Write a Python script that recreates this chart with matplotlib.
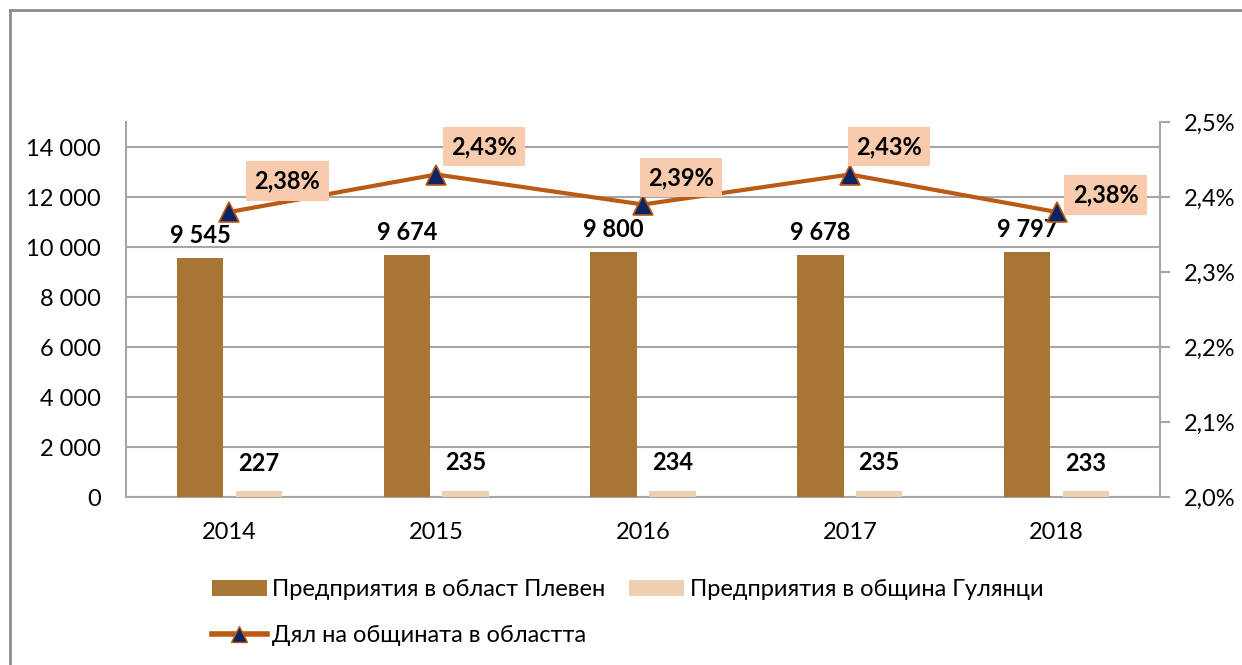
import matplotlib
matplotlib.use("Agg")
import matplotlib.pyplot as plt
from matplotlib.lines import Line2D
from matplotlib.patches import Patch
import numpy as np

years = ['2014', '2015', '2016', '2017', '2018']
pleven = [9545, 9674, 9800, 9678, 9797]
gulyantsi = [227, 235, 234, 235, 233]
share = [2.38, 2.43, 2.39, 2.43, 2.38]

# label box offsets from the markers, in pixels (right, up)
share_offsets = [(58, 31), (48, 28), (38, 27), (39, 28), (49, 17)]

plt.rcParams['font.family'] = ['Lato', 'Noto Sans', 'DejaVu Sans']
FS = 17

c_pleven = '#A97535'
c_gul = '#EED0B0'
c_line = '#BA5A14'
c_marker = '#0D2463'
c_grid = '#A6A6A6'


def fmt_int(v):
    return f'{v:,}'.replace(',', ' ')


fig = plt.figure(figsize=(12.42, 6.65), dpi=100)
ax = fig.add_axes([126 / 1242, 1 - 497 / 665, (1160 - 126) / 1242, (497 - 122) / 665])
ax2 = ax.twinx()

x = np.arange(len(years))
w = 0.225
off = 0.142
ax.bar(x - off, pleven, w, color=c_pleven, zorder=3)
ax.bar(x + off, gulyantsi, w, color=c_gul, zorder=3)

ax.set_xlim(-0.5, len(years) - 0.5)
ax.set_ylim(0, 15000)
ax.set_yticks(np.arange(0, 14001, 2000))
ax.set_yticklabels([fmt_int(v) for v in range(0, 14001, 2000)], fontsize=FS)
ax.set_xticks(x)
ax.set_xticklabels(years, fontsize=FS)
ax.tick_params(axis='x', length=0, pad=18)
ax.tick_params(axis='y', length=0, pad=18)
ax.grid(axis='y', color=c_grid, linewidth=1.5, zorder=0)
ax.set_axisbelow(True)

for s in ['top', 'right']:
    ax.spines[s].set_visible(False)
ax.spines['left'].set_color(c_grid)
ax.spines['left'].set_linewidth(1.5)
ax.spines['bottom'].set_color(c_grid)
ax.spines['bottom'].set_linewidth(1.5)

for xi, v in zip(x, pleven):
    ax.annotate(fmt_int(v), (xi - off, v), xytext=(0, 8), textcoords='offset points',
                ha='center', va='bottom', fontsize=FS, fontweight='bold', zorder=5)
for xi, v in zip(x, gulyantsi):
    ax.annotate(fmt_int(v), (xi + off, v), xytext=(0, 12), textcoords='offset points',
                ha='center', va='bottom', fontsize=FS, fontweight='bold', zorder=5)

ax2.plot(x, share, color=c_line, linewidth=3, marker='^', markersize=14,
         markerfacecolor=c_marker, markeredgecolor=c_line, markeredgewidth=1.2, zorder=4)
ax2.set_ylim(2.0, 2.5)
ax2.set_yticks(np.arange(2.0, 2.501, 0.1))
ax2.set_yticklabels([f'{v:.1f}%'.replace('.', ',') for v in np.arange(2.0, 2.501, 0.1)], fontsize=FS)
ax2.tick_params(axis='y', length=7, width=1.5, color=c_grid, pad=10)
for s in ['top', 'left', 'bottom']:
    ax2.spines[s].set_visible(False)
ax2.spines['right'].set_color(c_grid)
ax2.spines['right'].set_linewidth(1.5)

for xi, v, (dx, dy) in zip(x, share, share_offsets):
    ax2.annotate(f'{v:.2f}%'.replace('.', ','), (xi, v), xytext=(dx * 0.72, dy * 0.72),
                 textcoords='offset points', ha='center', va='center', fontsize=FS,
                 fontweight='bold', zorder=6,
                 bbox=dict(boxstyle='square,pad=0.35', facecolor='#F8CBAD', edgecolor='none'))

# legend
handles = [Patch(facecolor=c_pleven),
           Line2D([], [], color=c_line, linewidth=4, marker='^', markersize=12,
                  markerfacecolor=c_marker, markeredgecolor=c_line),
           Patch(facecolor=c_gul),
           Patch(facecolor='none', edgecolor='none')]
labels = ['Предприятия в област Плевен', 'Дял на общината в областта',
          'Предприятия в община Гулянци', '']
fig.legend(handles, labels, ncol=2, loc='upper left', bbox_to_anchor=(191 / 1242, 1 - 558 / 665),
           frameon=False, fontsize=FS, handlelength=2.3, handletextpad=0.25,
           columnspacing=1.0, labelspacing=1.05)

# outer frame of the source document
fig.add_artist(Line2D([10 / 1242, 1], [1 - 10 / 665, 1 - 10 / 665], color='#8C8C8C', linewidth=2))
fig.add_artist(Line2D([10 / 1242, 10 / 1242], [0, 1 - 10 / 665], color='#8C8C8C', linewidth=2))

fig.savefig('out.png', dpi=100)
